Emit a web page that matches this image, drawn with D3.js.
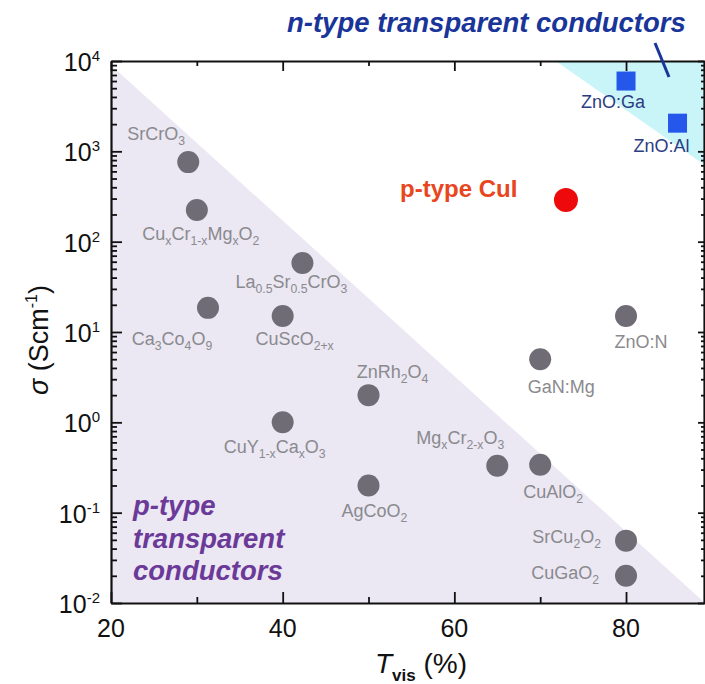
<!DOCTYPE html>
<html>
<head>
<meta charset="utf-8">
<title>Tvis vs conductivity</title>
<script src="https://cdn.jsdelivr.net/npm/d3@7"></script>
<style>
  body { margin: 0; background: #fff; }
  text { font-family: "Liberation Sans", Arial, sans-serif; }
</style>
</head>
<body>
<svg width="705" height="684" id="mainsvg"></svg>
<script>
// p-type compounds (grey dots)
const pNames = ["SrCrO_{3}", "Cu_{x}Cr_{1-x}Mg_{x}O_{2}", "La_{0.5}Sr_{0.5}CrO_{3}", "Ca_{3}Co_{4}O_{9}",
  "CuScO_{2+x}", "CuY_{1-x}Ca_{x}O_{3}", "ZnRh_{2}O_{4}", "GaN:Mg", "ZnO:N", "Mg_{x}Cr_{2-x}O_{3}",
  "CuAlO_{2}", "AgCoO_{2}", "SrCu_{2}O_{2}", "CuGaO_{2}"];
const pTvis = [29, 30, 42.3, 31.3, 40, 40, 50, 70, 80, 65, 70, 50, 80, 80];
const pSigma = [760, 224, 58, 18.5, 15, 1, 2, 5, 15, 0.33, 0.34, 0.2, 0.049, 0.02];
// n-type references (blue squares)
const nNames = ["ZnO:Ga", "ZnO:Al"];
const nTvis = [80, 86];
const nSigma = [6000, 2050];
// p-type CuI
const cuiTvis = [73];
const cuiSigma = [290];
// axes
const xMajor = [20, 40, 60, 80];
const xMinor = [30, 50, 70];
const yExp = [-2, -1, 0, 1, 2, 3, 4];

// label placement (offset from the marker, anchor)
const pLabelPos = [[-32, -22, 'middle'], [4, 30, 'middle'], [-11, 25, 'middle'], [-36, 37, 'middle'],
  [12, 29, 'middle'], [-8, 31, 'middle'], [24, -17, 'middle'], [21, 34, 'middle'], [15, 32, 'middle'],
  [-37, -22, 'middle'], [13, 33, 'middle'], [6, 32, 'middle'], [-25, 2, 'end'], [-27, 3, 'end']];
const nLabelPos = [[-13, 27], [-16, 29]];

const svg = d3.select('svg');
const L = 111, R = 705, T = 61, B = 603;
const x = d3.scaleLinear().domain([20, 89.2]).range([L, R]);
const y = d3.scaleLog().domain([1e-2, 1e4]).range([B, T]);

// shaded regions
const line = d3.line().x(d => x(d[0])).y(d => y(d[1]));
svg.append('path')
  .attr('d', line([[20, 9000], [20, 1e-2], [89.2, 1e-2]]) + 'Z')
  .attr('fill', '#ebe7f3');
svg.append('path')
  .attr('d', line([[71.8, 1e4], [89.2, 1e4], [89.2, 700]]) + 'Z')
  .attr('fill', '#c9f5f9');

// minor log ticks
const yMinor = [];
yExp.slice(0, -1).forEach(e => { for (let k = 2; k <= 9; k++) yMinor.push(k * Math.pow(10, e)); });
const yMajor = yExp.map(e => Math.pow(10, e));

function styleAxis(g, keepDomain) {
  g.selectAll('text').remove();
  if (!keepDomain) g.select('.domain').remove();
  g.select('.domain').attr('stroke-width', 2.2).attr('stroke', '#111');
  g.selectAll('.tick line').attr('stroke-width', 1.8).attr('stroke', '#111');
}
const axes = [
  [d3.axisBottom(x), xMajor, -11, `translate(0,${B})`, true],
  [d3.axisBottom(x), xMinor, -6, `translate(0,${B})`, false],
  [d3.axisTop(x), xMajor, -10, `translate(0,${T})`, true],
  [d3.axisTop(x), xMinor, -5, `translate(0,${T})`, false],
  [d3.axisLeft(y), yMajor, -11, `translate(${L},0)`, true],
  [d3.axisLeft(y), yMinor, -6, `translate(${L},0)`, false],
  [d3.axisRight(y), yMajor, -6, `translate(${R - 1},0)`, true],
  [d3.axisRight(y), yMinor, -3, `translate(${R - 1},0)`, false]
];
axes.forEach(([ax, vals, size, tr, dom]) => {
  svg.append('g').attr('transform', tr)
    .call(ax.tickValues(vals).tickSizeInner(size).tickSizeOuter(0).tickFormat(''))
    .call(g => styleAxis(g, dom));
});

// tick labels
svg.selectAll('.xlab').data(xMajor).join('text').attr('class', 'xlab')
  .attr('x', d => x(d)).attr('y', B + 34).attr('text-anchor', 'middle')
  .attr('font-size', 25).attr('fill', '#111').text(d => d);
const ylab = svg.selectAll('.ylab').data(yExp).join('text').attr('class', 'ylab')
  .attr('x', 100).attr('y', d => y(Math.pow(10, d)) + 10).attr('text-anchor', 'end')
  .attr('font-size', 25).attr('fill', '#111');
ylab.append('tspan').text('10');
ylab.append('tspan').attr('font-size', 15).attr('dy', -10).text(d => d);

// axis titles
const xt = svg.append('text').attr('x', 375).attr('y', 673).attr('font-size', 28).attr('fill', '#111');
xt.append('tspan').attr('font-style', 'italic').text('T');
xt.append('tspan').attr('font-size', 17).attr('font-weight', 'bold').attr('dy', 8).text('vis');
xt.append('tspan').attr('dy', -8).text(' (%)');
const yt = svg.append('text').attr('transform', 'translate(48,340) rotate(-90)')
  .attr('text-anchor', 'middle').attr('font-size', 27).attr('fill', '#111');
yt.append('tspan').attr('font-style', 'italic').text('σ');
yt.append('tspan').text(' (Scm');
yt.append('tspan').attr('font-size', 16).attr('dy', -11).text('-1');
yt.append('tspan').attr('dy', 11).text(')');

// formula text with subscripts
function formula(sel, s) {
  const parts = s.split(/(_\{[^}]*\})/).filter(p => p.length);
  let down = false;
  parts.forEach(p => {
    if (p.startsWith('_{')) {
      sel.append('tspan').attr('font-size', '0.68em').attr('dy', down ? 0 : 5).text(p.slice(2, -1));
      down = true;
    } else {
      sel.append('tspan').attr('dy', down ? -5 : 0).text(p);
      down = false;
    }
  });
}

// grey p-type points
const pData = pNames.map((n, i) => ({ name: n, t: pTvis[i], s: pSigma[i], pos: pLabelPos[i] }));
svg.selectAll('.pdot').data(pData).join('circle').attr('class', 'pdot')
  .attr('cx', d => x(d.t)).attr('cy', d => y(d.s)).attr('r', 11).attr('fill', '#6f6c75');
svg.selectAll('.plab').data(pData).join('text').attr('class', 'plab')
  .attr('x', d => x(d.t) + d.pos[0]).attr('y', d => y(d.s) + d.pos[1])
  .attr('text-anchor', d => d.pos[2]).attr('font-size', 18).attr('fill', '#8a8a8e')
  .each(function (d) { formula(d3.select(this), d.name); });

// n-type squares
const nData = nNames.map((n, i) => ({ name: n, t: nTvis[i], s: nSigma[i], pos: nLabelPos[i] }));
svg.selectAll('.nsq').data(nData).join('rect').attr('class', 'nsq')
  .attr('x', d => x(d.t) - 9.5).attr('y', d => y(d.s) - 9.5).attr('width', 19).attr('height', 19)
  .attr('fill', '#2457ea');
svg.selectAll('.nlab').data(nData).join('text').attr('class', 'nlab')
  .attr('x', d => x(d.t) + d.pos[0]).attr('y', d => y(d.s) + d.pos[1])
  .attr('text-anchor', 'middle').attr('font-size', 18).attr('fill', '#2c3c82').text(d => d.name);

// CuI
svg.selectAll('.cui').data(cuiTvis).join('circle').attr('class', 'cui')
  .attr('cx', d => x(d)).attr('cy', (d, i) => y(cuiSigma[i])).attr('r', 12).attr('fill', '#ee0a0a');
svg.append('text').attr('x', 400).attr('y', 197).attr('font-size', 24).attr('font-weight', 'bold')
  .attr('fill', '#e8461e').text('p-type CuI');

// region captions
svg.append('text').attr('x', 287).attr('y', 32).attr('font-size', 27.5).attr('font-weight', 'bold')
  .attr('font-style', 'italic').attr('fill', '#1a3599').text('n-type transparent conductors');
svg.append('line').attr('x1', 655).attr('y1', 43).attr('x2', 669).attr('y2', 77)
  .attr('stroke', '#1a3599').attr('stroke-width', 3);
const pc = svg.append('text').attr('font-size', 27.5).attr('font-weight', 'bold')
  .attr('font-style', 'italic').attr('fill', '#6b3a98');
['p-type', 'transparent', 'conductors'].forEach((s, i) => {
  pc.append('tspan').attr('x', 133).attr('y', 515 + i * 32.5).text(s);
});
</script>
</body>
</html>
